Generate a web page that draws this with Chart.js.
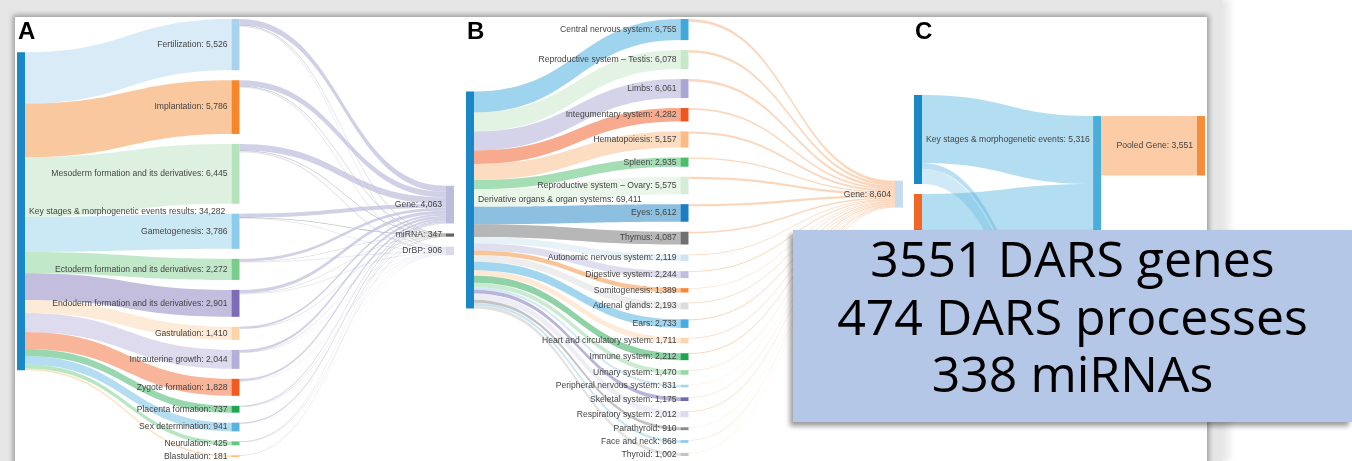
<!DOCTYPE html>
<html>
<head>
<meta charset="utf-8">
<title>DARS Sankey panels</title>
<script src="https://cdn.jsdelivr.net/npm/chart.js@4.4.1/dist/chart.umd.min.js"></script>
<style>
  html, body { margin: 0; padding: 0; background: #fff; width: 1352px; height: 461px; overflow: hidden; position: relative; }
  #backdrop { position: absolute; left: 0; top: 0; width: 1222px; height: 461px; background: #e6e6e6; box-shadow: 5px 0 8px 2px #e6e6e6; }
  #sheet { position: absolute; left: 15px; top: 17px; width: 1192px; height: 470px; background: #fff; box-shadow: 0 0 5px 2px rgba(0,0,0,0.33); }
  canvas { position: absolute; }
  #note {
    position: absolute; left: 793px; top: 230px; width: 559px; height: 192px;
    background: #b4c7e7; box-shadow: -3px 4px 5px rgba(0,0,0,0.4);
    font-family: 'Open Sans', sans-serif; font-size: 50px; line-height: 57.5px;
    text-align: center; color: #000;
  }
</style>
</head>
<body>
<div id="backdrop"></div>
<div id="sheet"></div>
<canvas id="panelA" width="447" height="444" style="left:15px;top:17px;width:447px;height:444px"></canvas>
<canvas id="panelB" width="448" height="444" style="left:462px;top:17px;width:448px;height:444px"></canvas>
<canvas id="panelC" width="301" height="444" style="left:906px;top:17px;width:301px;height:444px"></canvas>
<div id="note">3551 DARS genes<br>474 DARS processes<br>338 miRNAs</div>

<script>
// ---------- Panel A: key stages & morphogenetic events ----------
const A_SOURCE = 'Key stages & morphogenetic events results';
const A_STAGES = [
  'Fertilization', 'Implantation', 'Mesoderm formation and its derivatives', 'Gametogenesis',
  'Ectoderm formation and its derivatives', 'Endoderm formation and its derivatives', 'Gastrulation',
  'Intrauterine growth', 'Zygote formation', 'Placenta formation', 'Sex determination',
  'Neurulation', 'Blastulation'
];
const A_STAGE_VALUES = [5526, 5786, 6445, 3786, 2272, 2901, 1410, 2044, 1828, 737, 941, 425, 181];
const A_TYPES = ['Gene', 'miRNA', 'DrBP'];
const A_TO_GENE  = [640, 610, 700, 420, 300, 360, 200, 260, 240, 100, 120, 70, 43];
const A_TO_MIRNA = [55, 50, 60, 35, 25, 30, 15, 20, 20, 12, 12, 8, 5];
const A_TO_DRBP  = [140, 135, 160, 95, 65, 80, 40, 55, 50, 25, 30, 18, 13];

// ---------- Panel B: derivative organs & organ systems ----------
const B_SOURCE = 'Derivative organs & organ systems';
const B_ORGANS = [
  'Central nervous system', 'Reproductive system \u2013 Testis', 'Limbs', 'Integumentary system',
  'Hematopoiesis', 'Spleen', 'Reproductive system \u2013 Ovary', 'Eyes', 'Thymus',
  'Autonomic nervous system', 'Digestive system', 'Somitogenesis', 'Adrenal glands', 'Ears',
  'Heart and circulatory system', 'Immune system', 'Urinary system', 'Peripheral nervous system',
  'Skeletal system', 'Respiratory system', 'Parathyroid', 'Face and neck', 'Thyroid'
];
const B_ORGAN_VALUES = [6755, 6078, 6061, 4282, 5157, 2935, 5575, 5612, 4087, 2119, 2244, 1389,
                        2193, 2733, 1711, 2212, 1470, 831, 1175, 2012, 910, 868, 1002];
const B_TYPES = ['Gene'];
const B_TO_GENE = [840, 760, 750, 530, 640, 360, 690, 700, 500, 260, 280, 170,
                   270, 340, 210, 275, 180, 100, 145, 250, 110, 105, 139];

// ---------- Panel C: pooled results ----------
const C_GROUPS = ['Key stages & morphogenetic events', 'Derivative organs & organ systems'];
const C_TYPES = ['Gene', 'miRNA', 'DrBP'];
const C_POOLED = ['Pooled Gene', 'Pooled miRNA'];
const C_KEY_TO_TYPE = [4063, 347, 906];
const C_DERIV_TO_TYPE = [8604, 0, 0];
const C_TYPE_TO_POOLED = [3551, 338];

// ---------- styles ----------
const SOURCE_BLUE = '#1a87c6';
const A_STAGE_COLORS = ['#a9d2ed', '#f5862a', '#b5e1bb', '#8ccbe9', '#78cd8a', '#7a6db5', '#fdd2a6',
                        '#b4afd6', '#f05a1e', '#1da84d', '#5ab3df', '#60c878', '#fdbf70'];
const A_TYPE_COLORS = ['#bcbddc', '#636363', '#dadaeb'];
const A_TYPE_ALPHA = [0.7, 0.55, 0.7];
const B_ORGAN_COLORS = ['#3fa9dd', '#c6e8c9', '#aba7d3', '#f0561c', '#fcbb85', '#4cbd6b', '#d5edd6',
                        '#1a7fc2', '#707070', '#d0e3f2', '#c0bedf', '#f58a34', '#dcdcdc', '#45aee0',
                        '#fdd5b0', '#1ea64c', '#95d8a4', '#a8d4ea', '#7369b3', '#dcdcee', '#8a8a8a',
                        '#90cae4', '#c4c4c4'];
const B_GENE_COLOR = '#c6dbef';
const B_GENE_LINK = '#f5a66a';
const C_GROUP_COLORS = [SOURCE_BLUE, '#f26522'];
const C_TYPE_COLORS = ['#4aaedb', '#5cb4de', '#8ccbe9'];
const C_POOLED_COLORS = ['#f68d3a', '#969696'];

const NODE_W = 8;
const NODE_PAD = 10;
const LABEL_FONT = "8.6px 'Liberation Sans', Arial, sans-serif";
const LETTER_FONT = "bold 24px 'Liberation Sans', Arial, sans-serif";

function rgba(hex, a) {
  const n = parseInt(hex.slice(1), 16);
  return 'rgba(' + (n >> 16) + ',' + ((n >> 8) & 255) + ',' + (n & 255) + ',' + a + ')';
}
const total = list => list.reduce((s, l) => s + l.v, 0);

// Builds node/link lists for a three-column flow panel.
function panelA() {
  const nodes = [{ name: A_SOURCE, col: 0, color: SOURCE_BLUE }];
  A_STAGES.forEach((s, i) => nodes.push({ name: s, col: 1, color: A_STAGE_COLORS[i] }));
  A_TYPES.forEach((t, i) => nodes.push({ name: t, col: 2, color: A_TYPE_COLORS[i] }));
  const links = [];
  A_STAGE_VALUES.forEach((v, i) => links.push({ s: 0, t: 1 + i, v: v, alpha: 0.45 }));
  const flows = [A_TO_GENE, A_TO_MIRNA, A_TO_DRBP];
  A_STAGES.forEach((_, i) => flows.forEach((arr, k) =>
    links.push({ s: 1 + i, t: 1 + A_STAGES.length + k, v: arr[i], alpha: A_TYPE_ALPHA[k] })));
  return { letter: 'A', nodes, links, mainCol: 1, colX: [0, 1, 2],
           pad: { left: 2, right: 16, top: 2, bottom: 4 }, hideLabelCols: [] };
}

function panelB() {
  const nodes = [{ name: B_SOURCE, col: 0, color: SOURCE_BLUE }];
  B_ORGANS.forEach((s, i) => nodes.push({ name: s, col: 1, color: B_ORGAN_COLORS[i] }));
  B_TYPES.forEach(t => nodes.push({ name: t, col: 2, color: B_GENE_COLOR }));
  const links = [];
  B_ORGAN_VALUES.forEach((v, i) => links.push({ s: 0, t: 1 + i, v: v, alpha: 0.5 }));
  B_TO_GENE.forEach((v, i) =>
    links.push({ s: 1 + i, t: 1 + B_ORGANS.length, v: v, alpha: 0.45, color: B_GENE_LINK }));
  return { letter: 'B', nodes, links, mainCol: 1, colX: [0, 1, 2],
           pad: { left: 4, right: 15, top: 2, bottom: 5 }, hideLabelCols: [] };
}

function panelC() {
  const nodes = [];
  C_GROUPS.forEach((g, i) => nodes.push({ name: g, col: 0, color: C_GROUP_COLORS[i] }));
  C_TYPES.forEach((t, i) => nodes.push({ name: t, col: 1, color: C_TYPE_COLORS[i] }));
  C_POOLED.forEach((t, i) => nodes.push({ name: t, col: 2, color: C_POOLED_COLORS[i] }));
  const links = [];
  C_KEY_TO_TYPE.forEach((v, k) => links.push({ s: 0, t: 2 + k, v: v, alpha: 0.42 }));
  C_DERIV_TO_TYPE.forEach((v, k) => links.push({ s: 1, t: 2 + k, v: v, alpha: 0.42 }));
  C_TYPE_TO_POOLED.forEach((v, k) => links.push({ s: 2 + k, t: 5 + k, v: v, alpha: 0.45 }));
  // middle column of this panel carries no labels
  return { letter: 'C', nodes, links, mainCol: 0, colX: [0, 1, 1.58], yMax: 21860,
           pad: { left: 8, right: 10, top: 78, bottom: 0 }, hideLabelCols: [1] };
}

// Vertical layout in value units: the main column is stacked, the others follow their links.
function layoutSankey(p, H) {
  const nodes = p.nodes.map(n => Object.assign({}, n, { inL: [], outL: [] }));
  const links = p.links.filter(l => l.v > 0).map(l => Object.assign({}, l));
  links.forEach(l => { nodes[l.s].outL.push(l); nodes[l.t].inL.push(l); });
  nodes.forEach(n => { n.value = Math.max(total(n.inL), total(n.outL)); });
  const cols = [];
  nodes.forEach(n => { (cols[n.col] = cols[n.col] || []).push(n); });

  const main = cols[p.mainCol];
  const S = main.reduce((s, n) => s + n.value, 0);
  const ky = p.yMax ? H / p.yMax : (H - (main.length - 1) * NODE_PAD) / S;
  const pad = NODE_PAD / ky;
  const yMax = H / ky;

  let y = 0;
  main.forEach(n => { n.y0 = y; n.y1 = y + n.value; y = n.y1 + pad; });

  const before = (list, l) => { let o = 0; for (const k of list) { if (k === l) break; o += k.v; } return o; };
  // keeps the column's own order and removes overlaps
  const settle = col => {
    let floor = 0;
    col.forEach(n => { if (n.y0 < floor) n.y0 = floor; n.y1 = n.y0 + n.value; floor = n.y1 + pad; });
    let ceil = yMax;
    for (let i = col.length - 1; i >= 0; i--) {
      const n = col[i];
      if (n.y1 > ceil) { n.y1 = ceil; n.y0 = ceil - n.value; }
      ceil = n.y0 - pad;
    }
  };

  for (let c = p.mainCol + 1; c < cols.length; c++) {
    cols[c].forEach(n => {
      const ins = n.inL.slice().sort((a, b) => nodes[a.s].y0 - nodes[b.s].y0);
      let sw = 0, sy = 0;
      ins.forEach(l => { const src = nodes[l.s]; sy += l.v * (src.y0 + before(src.outL, l) - before(ins, l)); sw += l.v; });
      n.y0 = sw > 0 ? sy / sw : 0;
    });
    settle(cols[c]);
  }
  for (let c = p.mainCol - 1; c >= 0; c--) {
    cols[c].forEach(n => {
      const outs = n.outL.slice().sort((a, b) => nodes[a.t].y0 - nodes[b.t].y0);
      let sw = 0, sy = 0;
      outs.forEach(l => { const tgt = nodes[l.t]; sy += l.v * (tgt.y0 + before(tgt.inL, l) - before(outs, l)); sw += l.v; });
      n.y0 = sw > 0 ? sy / sw : 0;
    });
    settle(cols[c]);
  }

  nodes.forEach(n => {
    let o = n.y0;
    n.outL.slice().sort((a, b) => nodes[a.t].y0 - nodes[b.t].y0).forEach(l => { l.sy = o; o += l.v; });
    let q = n.y0;
    n.inL.slice().sort((a, b) => nodes[a.s].y0 - nodes[b.s].y0).forEach(l => { l.ty = q; q += l.v; });
  });
  return { nodes, links, yMax };
}

function sankeyPlugin(p, L) {
  return {
    id: 'sankeyPanel',
    afterDatasetsDraw(chart) {
      const { ctx, chartArea } = chart;
      const xs = chart.scales.x, ys = chart.scales.y;
      const nx = c => xs.getPixelForValue(p.colX[c]);
      const py = v => ys.getPixelForValue(v);
      ctx.save();

      L.links.forEach(l => {
        const s = L.nodes[l.s], t = L.nodes[l.t];
        const x0 = nx(s.col) + NODE_W, x1 = nx(t.col), xm = (x0 + x1) / 2;
        const a0 = py(l.sy), a1 = py(l.sy + l.v), b0 = py(l.ty), b1 = py(l.ty + l.v);
        ctx.beginPath();
        ctx.moveTo(x0, a0);
        ctx.bezierCurveTo(xm, a0, xm, b0, x1, b0);
        ctx.lineTo(x1, b1);
        ctx.bezierCurveTo(xm, b1, xm, a1, x0, a1);
        ctx.closePath();
        ctx.fillStyle = rgba(l.color || t.color, l.alpha);
        ctx.fill();
      });

      L.nodes.forEach(n => {
        const top = py(n.y0), bottom = py(n.y1);
        ctx.fillStyle = n.color;
        ctx.fillRect(nx(n.col), top, NODE_W, Math.max(bottom - top, 1));
      });

      ctx.font = LABEL_FONT;
      ctx.fillStyle = '#444';
      ctx.textBaseline = 'middle';
      L.nodes.forEach(n => {
        if (p.hideLabelCols.includes(n.col)) return;
        const cy = (py(n.y0) + py(n.y1)) / 2;
        const text = n.name + ': ' + n.value.toLocaleString('en-US');
        if (n.col === 0) { ctx.textAlign = 'left'; ctx.fillText(text, nx(0) + NODE_W + 4, cy); }
        else { ctx.textAlign = 'right'; ctx.fillText(text, nx(n.col) - 4, cy); }
      });

      ctx.font = LETTER_FONT;
      ctx.fillStyle = '#000';
      ctx.textAlign = 'left';
      ctx.textBaseline = 'alphabetic';
      ctx.fillText(p.letter, chartArea.left + 1, 22);
      ctx.restore();
    }
  };
}

function drawPanel(id, p) {
  const el = document.getElementById(id);
  const H = el.height - p.pad.top - p.pad.bottom;
  const L = layoutSankey(p, H);
  return new Chart(el, {
    type: 'scatter',
    data: { datasets: [] },
    options: {
      responsive: false,
      animation: false,
      devicePixelRatio: 1,
      events: [],
      layout: { padding: p.pad },
      plugins: { legend: { display: false }, tooltip: { enabled: false }, title: { display: false } },
      scales: {
        x: { type: 'linear', display: false, min: 0, max: p.colX[p.colX.length - 1] },
        y: { type: 'linear', display: false, min: 0, max: L.yMax, reverse: true }
      }
    },
    plugins: [sankeyPlugin(p, L)]
  });
}

drawPanel('panelA', panelA());
drawPanel('panelB', panelB());
drawPanel('panelC', panelC());
</script>
</body>
</html>
